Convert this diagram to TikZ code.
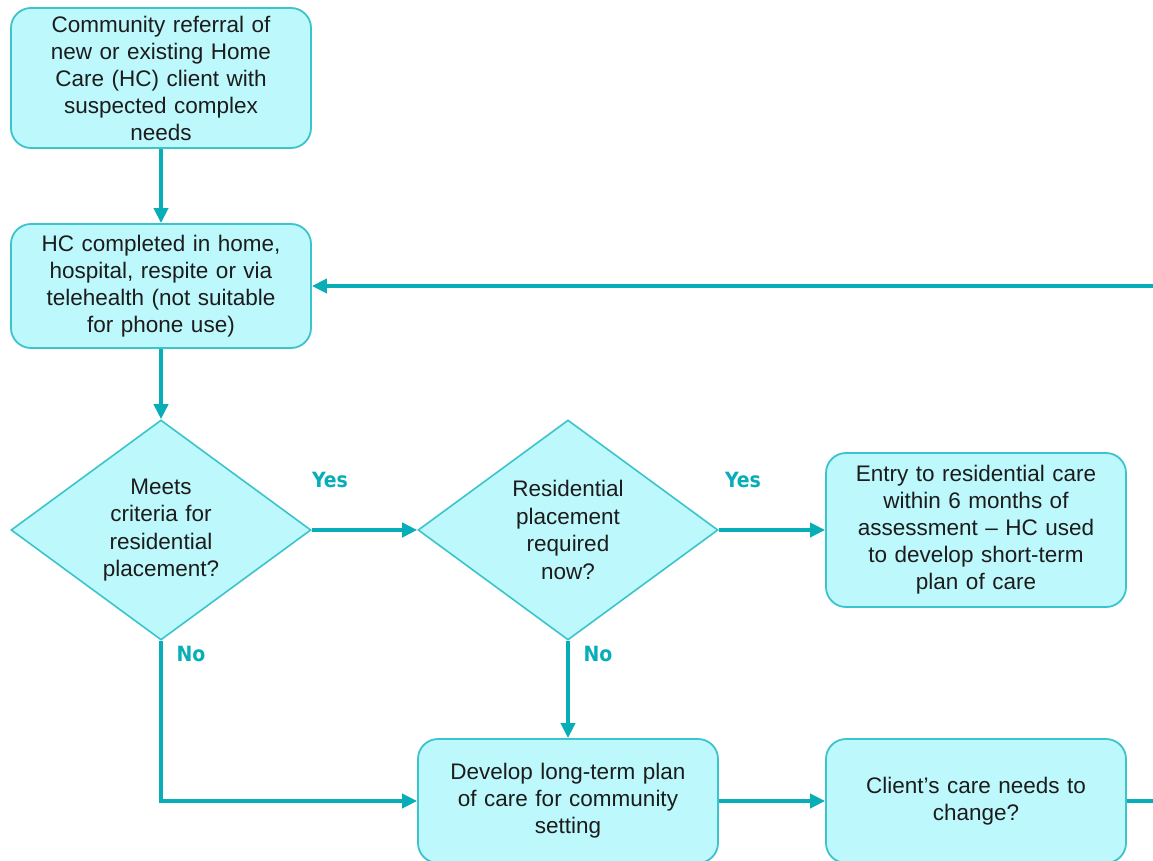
\documentclass[tikz,border=0pt]{standalone}
\usepackage{fontspec}
\setmainfont{Liberation Sans}
\newfontfamily\labelfont{DejaVu Sans Condensed}[BoldFont={DejaVu Sans Condensed Bold}]
\usetikzlibrary{shapes.geometric,arrows.meta}
\definecolor{boxfill}{HTML}{BDF8FC}
\definecolor{boxline}{HTML}{3CC4CC}
\definecolor{flow}{HTML}{07AEB8}
\definecolor{bodytext}{HTML}{1C1C1C}
\tikzset{
  x=1pt, y=-1pt,
  procbox/.style={rectangle, rounded corners=20pt, draw=boxline, line width=1.8pt,
    fill=boxfill, minimum width=300pt, inner sep=0pt, text width=290pt, align=center,
    text=bodytext, font=\fontsize{22.5}{27}\selectfont},
  decision/.style={diamond, draw=boxline, line width=1.6pt, fill=boxfill,
    minimum width=300pt, minimum height=220pt, inner sep=0pt, aspect=1.36,
    text width=130pt, align=center, text=bodytext, font=\fontsize{22.5}{27.5}\selectfont},
  flowline/.style={draw=flow, line width=4pt},
  flowarrow/.style={flowline, -{Triangle[length=15pt,width=14pt]}},
  answer/.style={text=flow, font=\labelfont\bfseries\fontsize{21}{24}\selectfont, inner sep=0pt}
}
\begin{document}
\begin{tikzpicture}
\useasboundingbox (0,0) rectangle (1153,861);
\fill[white] (0,0) rectangle (1153,861);

% process steps
\node[procbox, minimum height=140pt] (refer) at (161,78)
  {Community referral of\\new or existing Home\\Care (HC) client with\\suspected complex\\needs};
\node[procbox, minimum height=124pt] (assess) at (161,286)
  {HC completed in home,\\hospital, respite or via\\telehealth (not suitable\\for phone use)};
\node[decision] (meets) at (161,530)
  {Meets\\criteria for\\residential\\placement?};
\node[decision] (now) at (568,530)
  {Residential\\placement\\required\\now?};
\node[procbox, minimum height=154pt] (entry) at (976,530)
  {Entry to residential care\\within 6 months of\\assessment -- HC used\\to develop short-term\\plan of care};
\node[procbox, minimum height=124pt] (longterm) at (568,801)
  {Develop long-term plan\\of care for community\\setting};
\node[procbox, minimum height=124pt] (change) at (976,801)
  {Client’s care needs to\\change?};

% loose ends running off the right edge
\coordinate (outR) at (1165,801);
\coordinate (inR) at (1165,286);

% connectors
\draw[flowarrow] (refer.south) -- (assess.north);
\draw[flowarrow] (assess.south) -- (meets.north);
\draw[flowarrow] (meets.east) -- (now.west);
\draw[flowarrow] (now.east) -- (entry.west);
\draw[flowarrow] (now.south) -- (longterm.north);
\draw[flowarrow] (meets.south) |- (longterm.west);
\draw[flowarrow] (longterm.east) -- (change.west);
\draw[flowline] (change.east) -- (outR);
\draw[flowarrow] (inR) -- (assess.east);

% branch labels
\node[answer] (yes1) at (330,480) {Yes};
\node[answer] (yes2) at (743,480) {Yes};
\node[answer] (no1) at (191,654) {No};
\node[answer] (no2) at (598,654) {No};
\end{tikzpicture}
\end{document}
